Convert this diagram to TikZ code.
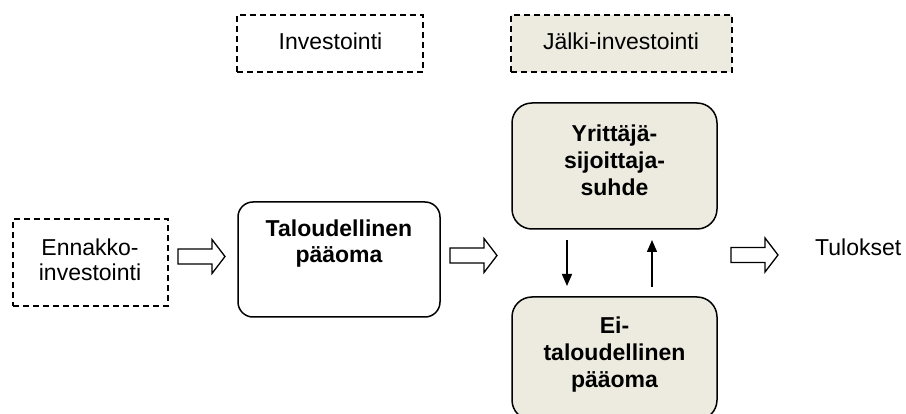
\documentclass[tikz,border=0pt]{standalone}
\usepackage{fontspec}
\setmainfont{Liberation Sans}
\usetikzlibrary{arrows.meta}
\definecolor{beige}{RGB}{237,235,224}
\begin{document}
\begin{tikzpicture}[x=1pt,y=-1pt,
  dbox/.style={draw, line width=1.1pt, dash pattern=on 6pt off 4pt, inner sep=0pt, outer sep=0pt},
  rbox/.style={draw, line width=1.5pt, rounded corners=16pt, inner sep=0pt, outer sep=0pt},
  txt/.style={font=\fontsize{23}{25}\selectfont, inner sep=0pt, align=center},
  btxt/.style={font=\fontsize{23}{27}\selectfont\bfseries, inner sep=0pt, align=center},
  blockarr/.pic={\draw[line width=1.3pt, line join=miter] (0,-7.5) -- (34,-7.5) -- (34,-17) -- (47,0) -- (34,17) -- (34,7.5) -- (0,7.5) -- cycle;},
  smallarr/.style={line width=1.5pt, -{Triangle[length=12pt,width=10pt]}}
]
\useasboundingbox (0,0) rectangle (906,414);
\clip (0,0) rectangle (906,414);

% top header boxes
\node[dbox, minimum width=186pt, minimum height=57pt] (inv) at (330,43.5) {};
\node[txt, anchor=base] (invt) at (330.5,50) {Investointi};
\node[dbox, fill=beige, minimum width=221pt, minimum height=57pt] (jalki) at (621.5,43.5) {};
\node[txt, anchor=base] (jalkit) at (621,50) {Jälki-investointi};

% left dashed box
\node[dbox, minimum width=155pt, minimum height=87pt] (enn) at (90.5,262.5) {};
\node[txt, anchor=north] (ennt) at (90,238.4) {Ennakko-\\investointi};

% taloudellinen
\node[rbox, rounded corners=15pt, minimum width=202pt, minimum height=115pt] (tal) at (339,259.5) {};
\node[btxt, font=\fontsize{23}{26}\selectfont\bfseries, anchor=north] (talt) at (339,219.4) {Taloudellinen\\pääoma};

% yrittaja
\node[rbox, fill=beige, rounded corners=20pt, minimum width=205pt, minimum height=126pt] (yr) at (614.5,166) {};
\node[btxt, anchor=north] (yrt) at (614.5,124.4) {Yrittäjä-\\sijoittaja-\\suhde};

% ei-taloudellinen
\node[rbox, fill=beige, rounded corners=20pt, minimum width=205pt, minimum height=123pt] (ei) at (614.5,358.5) {};
\node[btxt, anchor=north] (eit) at (614.5,316.4) {Ei-\\taloudellinen\\pääoma};

% results
\node[txt, anchor=base west] (tul) at (815,256) {Tulokset};

% block arrows
\pic at (178,256.5) {blockarr};
\pic at (450,255.5) {blockarr};
\pic at (731,255) {blockarr};

% small arrows
\coordinate (d1) at (567,240);
\coordinate (d2) at (567,286);
\coordinate (u1) at (652,287);
\coordinate (u2) at (652,240);
\draw[smallarr] (d1) -- (d2);
\draw[smallarr] (u1) -- (u2);
\end{tikzpicture}
\end{document}
